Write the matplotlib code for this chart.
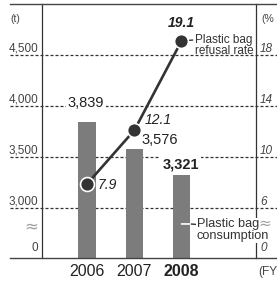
import matplotlib
matplotlib.use('Agg')
import matplotlib.pyplot as plt
import matplotlib.transforms as mtransforms
from matplotlib.lines import Line2D
import numpy as np

# ---------------- data ----------------
years = ['2006', '2007', '2008']
consumption = [3839, 3576, 3321]          # t
refusal_rate = [7.9, 12.1, 19.1]          # %
consumption_labels = ['3,839', '3,576', '3,321']
rate_labels = ['7.9', '12.1', '19.1']
left_ticks = [3000, 3500, 4000, 4500]
left_tick_labels = ['3,000', '3,500', '4,000', '4,500']
right_ticks = [6, 10, 14, 18]
right_tick_labels = ['6', '10', '14', '18']

plt.rcParams['font.family'] = ['Liberation Sans', 'DejaVu Sans']

W, H = 277, 281
fig = plt.figure(figsize=(W / 100, H / 100), dpi=100)


def fx(px):
    return px / W


def fy(py):
    return 1 - py / H


PT = 0.72  # points per pixel at 100 dpi

ax = fig.add_axes([fx(42), fy(258), fx(255.5) - fx(42), fy(4) - fy(258)])
x = np.arange(len(years))
ax.set_xlim(-0.959, 3.57)
T0, T1 = 2510, 5000
ax.set_ylim(T0, T1)


def t2p(t):
    return 6 + (t - 3000) / 125


ax2 = ax.twinx()
ax2.set_ylim(t2p(T0), t2p(T1))

DARK = '#333333'
for a in (ax, ax2):
    for s in ('top', 'bottom'):
        a.spines[s].set_visible(False)
ax.spines['right'].set_visible(False)
ax2.spines['left'].set_visible(False)
ax.spines['left'].set_color(DARK)
ax.spines['left'].set_linewidth(0.9)
ax2.spines['right'].set_color(DARK)
ax2.spines['right'].set_linewidth(0.9)
ax.set_yticks([])
ax2.set_yticks([])

# horizontal frame lines spanning the figure
for py in (4, 258):
    fig.add_artist(Line2D([fx(10), 1], [fy(py), fy(py)], transform=fig.transFigure,
                          color='#444444', lw=1.0))

# dashed gridlines
trans_l = mtransforms.blended_transform_factory(fig.transFigure, ax.transData)
for t in left_ticks:
    ax.plot([fx(10), 1], [t, t], transform=trans_l, ls=(0, (2.4, 1.6)), lw=0.9,
            color=DARK, clip_on=False, zorder=0.5)

# bars
bar_w = 0.375
ax.bar(x, consumption, width=bar_w, color='#7c7c7c', zorder=2)

# left tick labels
for t, lab in zip(left_ticks, left_tick_labels):
    ax.annotate(lab, xy=(fx(38), t), xycoords=trans_l, xytext=(0, 2.2),
                textcoords='offset points', ha='right', va='baseline',
                fontsize=8.5, color='#444444', annotation_clip=False)
fig.text(fx(38), fy(248), '0', ha='right', va='center', fontsize=8.5, color='#444444')
fig.text(fx(10), fy(19), '(t)', ha='left', va='center', fontsize=7.5, color='#444444')

# right tick labels
trans_r = mtransforms.blended_transform_factory(fig.transFigure, ax2.transData)
for p, lab in zip(right_ticks, right_tick_labels):
    ax2.annotate(lab, xy=(fx(260), p), xycoords=trans_r, xytext=(0, 2.2),
                 textcoords='offset points', ha='left', va='baseline',
                 fontsize=8.5, style='italic', color='#444444', annotation_clip=False)
fig.text(fx(260), fy(248), '0', ha='left', va='center', fontsize=8.5,
         style='italic', color='#444444')
fig.text(fx(261), fy(19), '(%', ha='left', va='center', fontsize=7.5, color='#444444')
fig.text(fx(258), fy(272), '(FY', ha='left', va='center', fontsize=8.5, color='#444444')

# axis break symbols
fig.text(fx(31.5), fy(226), '≈', ha='center', va='center', fontsize=12,
         color='#a0a0a0', family='DejaVu Sans')
fig.text(fx(265), fy(223.5), '≈', ha='center', va='center', fontsize=11,
         color='#a0a0a0', family='DejaVu Sans', zorder=7)

# year labels
ax.set_xticks(x)
ax.set_xticklabels(years, fontsize=11.5, color='#222222')
ax.tick_params(axis='x', length=0, pad=4.5)
ax.get_xticklabels()[-1].set_fontweight('bold')

# consumption value labels
cons_off = [(-0.9, 14), (18.5, 6.7), (-0.7, 7.4)]
for i, (v, lab) in enumerate(zip(consumption, consumption_labels)):
    ax.annotate(lab, xy=(x[i], v), xytext=cons_off[i], textcoords='offset points',
                ha='center', va='center', fontsize=10.5, color='#222222',
                fontweight='bold' if i == 2 else 'normal', zorder=6,
                bbox=dict(boxstyle='square,pad=0.15', fc='white', ec='none'))

# refusal rate line
ax2.plot(x, refusal_rate, color=DARK, lw=1.9, marker='o', ms=10,
         mfc=DARK, mec='white', mew=1.2, zorder=4, clip_on=False)

rate_off = [(7.8, -0.7, 'left'), (7.2, 7.2, 'left'), (0, 13, 'center')]
for i, (v, lab) in enumerate(zip(refusal_rate, rate_labels)):
    dx, dy, ha = rate_off[i]
    ax2.annotate(lab, xy=(x[i], v), xytext=(dx, dy), textcoords='offset points',
                 ha=ha, va='center', fontsize=10, style='italic', color='#222222',
                 fontweight='bold' if i == 2 else 'normal', zorder=6)

# series labels
ax2.annotate('Plastic bag\nrefusal rate', xy=(x[2], refusal_rate[2]),
             xytext=(14 * PT, -4.5 * PT), textcoords='offset points',
             ha='left', va='center', fontsize=8.5, linespacing=0.95, color='#333333',
             arrowprops=dict(arrowstyle='-', color=DARK, lw=1.0, shrinkA=0, shrinkB=0,
                             relpos=(0, 0.74)), zorder=3)

lead_y = 0.134
ax2.annotate('Plastic bag', xy=(x[2] + bar_w / 2, lead_y),
             xycoords=('data', 'axes fraction'),
             xytext=(6.5 * PT, -0.5 * PT), textcoords='offset points',
             ha='left', va='center', fontsize=9.2, color='#333333',
             bbox=dict(boxstyle='square,pad=0.05', fc='white', ec='none'),
             arrowprops=dict(arrowstyle='-', color=DARK, lw=1.0, shrinkA=0, shrinkB=0,
                             relpos=(0, 0.5)), zorder=6)
ax2.annotate('consumption', xy=(x[2] + bar_w / 2, lead_y),
             xycoords=('data', 'axes fraction'),
             xytext=(6.5 * PT, -12.5 * PT), textcoords='offset points',
             ha='left', va='center', fontsize=9.2, color='#333333',
             bbox=dict(boxstyle='square,pad=0.05', fc='white', ec='none'), zorder=6)
ax2.annotate('', xy=(x[2], lead_y), xytext=(x[2] + bar_w / 2, lead_y),
             xycoords=('data', 'axes fraction'), textcoords=('data', 'axes fraction'),
             arrowprops=dict(arrowstyle='-', color='white', lw=1.2, shrinkA=0, shrinkB=0),
             zorder=6)

fig.savefig('out.png', dpi=100)
